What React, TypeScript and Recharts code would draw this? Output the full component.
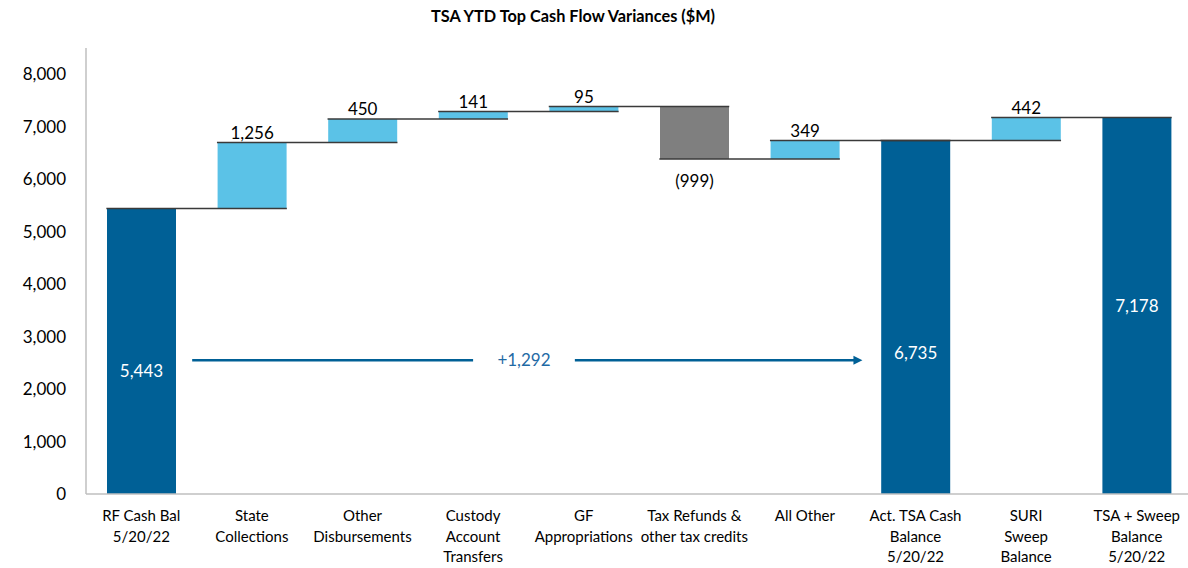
import { BarChart, Bar, XAxis, YAxis, Cell, LabelList, ReferenceLine, ReferenceDot } from 'recharts'

// 項目・値
const categories = [
  'RF Cash Bal\n5/20/22',
  'State\nCollections',
  'Other\nDisbursements',
  'Custody\nAccount\nTransfers',
  'GF\nAppropriations',
  'Tax Refunds &\nother tax credits',
  'All Other',
  'Act. TSA Cash\nBalance\n5/20/22',
  'SURI\nSweep\nBalance',
  'TSA + Sweep\nBalance\n5/20/22',
]
const values = [5443, 1256, 450, 141, 95, -999, 349, 6735, 442, 7178]
const kinds = ['total', 'up', 'up', 'up', 'up', 'down', 'up', 'total', 'up', 'total']
const yTicks = [0, 1000, 2000, 3000, 4000, 5000, 6000, 7000, 8000]

const DARK = '#006096'
const LIGHT = '#5BC2E7'
const GRAY = '#7F7F7F'
const FONT = 'Lato, "Open Sans", sans-serif'

// ウォーターフォール用の土台と高さ
const levels: number[] = []
let running = 0
const chartData = categories.map((name, i) => {
  const v = values[i]
  let base = 0
  let size = v
  if (kinds[i] === 'total') {
    running = v
  } else {
    base = v >= 0 ? running : running + v
    size = Math.abs(v)
    running += v
  }
  levels.push(running)
  return { name, pos: i + 0.5, base, size }
})

const netChange = values[7] - values[0]

// 棒の幅の割合（区間幅に対して）
const barEdge = 0.184
const arrowY = 2550

const fmt = (v: number) => v.toLocaleString('en-US')

function CategoryTick(props: any) {
  const { x, y, payload } = props
  const lines = String(payload.value).split('\n')
  return (
    <text x={x} y={y} textAnchor="middle" fill="#000" fontSize={15} fontFamily={FONT}>
      {lines.map((l, i) => (
        <tspan key={i} x={x} dy={i === 0 ? 19 : 20.5}>
          {l}
        </tspan>
      ))}
    </text>
  )
}

const totalShift: Record<number, number> = { 0: 19, 7: 35 }

function BarLabel(props: any) {
  const { x, y, width, height, index } = props
  const v = values[index]
  const cx = x + width / 2
  const common = { textAnchor: 'middle' as const, fontSize: 17, fontFamily: FONT, dominantBaseline: 'central' as const }
  if (kinds[index] === 'total') {
    return (
      <text x={cx} y={y + height / 2 + (totalShift[index] ?? 0)} fill="#fff" {...common}>
        {fmt(v)}
      </text>
    )
  }
  if (kinds[index] === 'down') {
    return (
      <text x={cx} y={y + height + 22} fill="#000" {...common}>
        {`(${fmt(Math.abs(v))})`}
      </text>
    )
  }
  return (
    <text x={cx} y={y - 10} fill="#000" {...common}>
      {fmt(v)}
    </text>
  )
}

function ArrowLine(props: any) {
  const { x1, y1, x2, y2 } = props
  return (
    <g>
      <line x1={x1} y1={y1} x2={x2 - 6} y2={y2} stroke={DARK} strokeWidth={2.5} />
      <polygon points={`${x2},${y2} ${x2 - 9},${y2 - 4.5} ${x2 - 9},${y2 + 4.5}`} fill={DARK} />
    </g>
  )
}

export default function App() {
  return (
    <div style={{ position: 'absolute', left: 0, top: 0, width: 1188, height: 568, overflow: 'hidden', background: '#fff' }}>
      <div
        style={{
          position: 'absolute',
          left: 0,
          top: 6,
          width: 1146,
          textAlign: 'center',
          fontFamily: FONT,
          fontWeight: 700,
          fontSize: 16.3,
          color: '#000',
        }}
      >
        TSA YTD Top Cash Flow Variances ($M)
      </div>
      <BarChart
        width={1193}
        height={568}
        data={chartData}
        margin={{ top: 48, right: 1, left: 0, bottom: 0 }}
      >
        <XAxis
          dataKey="name"
          interval={0}
          tickLine={false}
          axisLine={{ stroke: '#BFBFBF', strokeWidth: 1.5 }}
          height={74}
          tick={<CategoryTick />}
        />
        <XAxis xAxisId="pos" dataKey="pos" type="number" domain={[0, 10]} allowDataOverflow hide />
        <YAxis
          domain={[0, 8500]}
          ticks={yTicks}
          interval={0}
          width={86}
          tickLine={false}
          tickMargin={14}
          axisLine={{ stroke: '#BFBFBF', strokeWidth: 1.5 }}
          tickFormatter={fmt}
          tick={{ fill: '#000', fontSize: 17, fontFamily: FONT }}
        />

        <Bar dataKey="base" stackId="w" fill="transparent" isAnimationActive={false} barSize={69} />
        <Bar dataKey="size" stackId="w" isAnimationActive={false} barSize={69}>
          {chartData.map((_, i) => (
            <Cell key={i} fill={kinds[i] === 'total' ? DARK : kinds[i] === 'down' ? GRAY : LIGHT} />
          ))}
          <LabelList dataKey="size" content={<BarLabel />} />
        </Bar>

        {/* 接続線 */}
        {levels.slice(0, -1).map((lv, i) => (
          <ReferenceLine
            key={`c${i}`}
            xAxisId="pos"
            segment={[
              { x: i + barEdge, y: lv },
              { x: i + 2 - barEdge, y: lv },
            ]}
            stroke="#3A3A3A"
            strokeWidth={1.5}
            ifOverflow="visible"
          />
        ))}

        {/* 増減の矢印 */}
        <ReferenceLine
          xAxisId="pos"
          segment={[
            { x: 0.96, y: arrowY },
            { x: 3.5, y: arrowY },
          ]}
          stroke={DARK}
          strokeWidth={2.5}
          ifOverflow="visible"
        />
        <ReferenceLine
          xAxisId="pos"
          segment={[
            { x: 4.42, y: arrowY },
            { x: 7.02, y: arrowY },
          ]}
          shape={<ArrowLine />}
          ifOverflow="visible"
        />
        <ReferenceDot
          xAxisId="pos"
          x={3.96}
          y={arrowY}
          r={0}
          fill="none"
          stroke="none"
          ifOverflow="visible"
          label={{ value: `+${fmt(netChange)}`, position: 'center', fill: '#1F6AA5', fontSize: 17, fontFamily: FONT }}
        />
      </BarChart>
    </div>
  )
}
